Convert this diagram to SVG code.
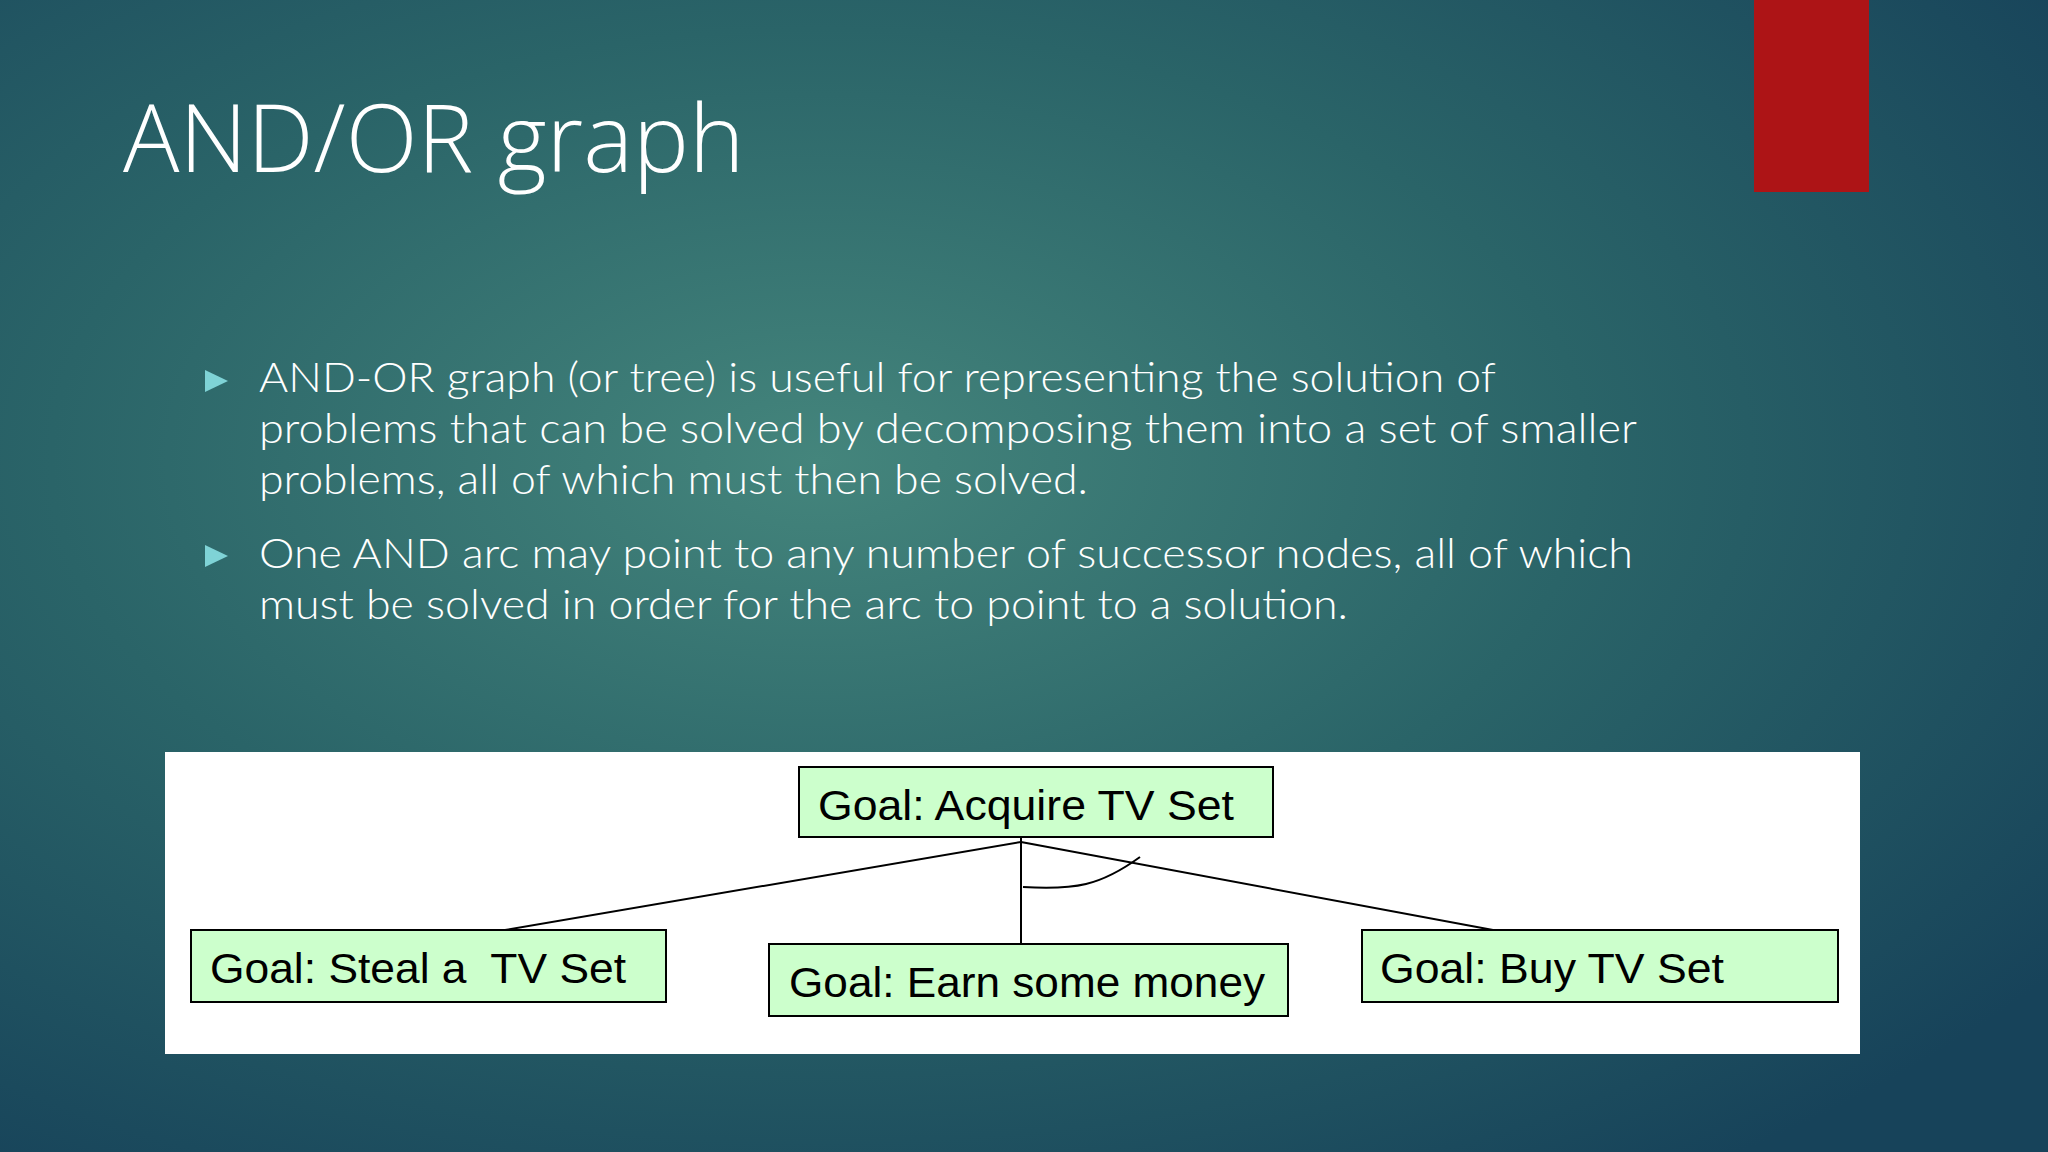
<svg xmlns="http://www.w3.org/2000/svg" width="2048" height="1152" viewBox="0 0 2048 1152">
<defs>
<radialGradient id="bg" cx="0.4" cy="0.4" r="0.75">
<stop offset="0" stop-color="#44857c"/>
<stop offset="0.5" stop-color="#2a6468"/>
<stop offset="1" stop-color="#17435a"/>
</radialGradient>
<style>
.t{font-family:"Open Sans","Noto Sans",sans-serif;fill:#ffffff;font-weight:300}
.b{font-family:Lato,"Open Sans",sans-serif;font-size:42px}
.n rect{fill:#ccffcc;stroke:#000;stroke-width:2}
.n text{font-family:"Liberation Sans",Arial,sans-serif;font-size:42px;fill:#000}
.c{stroke:#000;stroke-width:2;fill:none}
.bul{fill:#7fd3d6}
</style>
</defs>
<rect width="2048" height="1152" fill="url(#bg)"/>
<rect x="1754" y="0" width="115" height="192" fill="#ad1416"/>
<text class="t" x="123" y="172" font-size="94">AND/OR graph</text>
<polygon class="bul" points="205,370 228,381 205,392"/>
<polygon class="bul" points="205,545 228,556 205,567"/>
<text class="t b" x="259" y="392" textLength="1237" lengthAdjust="spacingAndGlyphs">AND-OR graph (or tree) is useful for representing the solution of</text>
<text class="t b" x="259" y="443" textLength="1378" lengthAdjust="spacingAndGlyphs">problems that can be solved by decomposing them into a set of smaller</text>
<text class="t b" x="259" y="494" textLength="829" lengthAdjust="spacingAndGlyphs">problems, all of which must then be solved.</text>
<text class="t b" x="259" y="568" textLength="1374" lengthAdjust="spacingAndGlyphs">One AND arc may point to any number of successor nodes, all of which</text>
<text class="t b" x="259" y="619" textLength="1089" lengthAdjust="spacingAndGlyphs">must be solved in order for the arc to point to a solution.</text>
<rect x="165" y="752" width="1695" height="302" fill="#ffffff"/>
<g id="connectors">
<line class="c" x1="1021" y1="832" x2="1021" y2="944"/>
<line class="c" x1="1021" y1="842" x2="505" y2="930"/>
<line class="c" x1="1021" y1="842" x2="1493" y2="930"/>
<path class="c" d="M1023,887 C1075,890 1100,886 1140,857"/>
</g>
<g id="n-acquire" class="n"><rect x="799" y="767" width="474" height="70"/><text x="818" y="820" textLength="416" lengthAdjust="spacingAndGlyphs">Goal: Acquire TV Set</text></g>
<g id="n-steal" class="n"><rect x="191" y="930" width="475" height="72"/><text x="210" y="983" textLength="416" lengthAdjust="spacingAndGlyphs" xml:space="preserve">Goal: Steal a  TV Set</text></g>
<g id="n-earn" class="n"><rect x="769" y="944" width="519" height="72"/><text x="789" y="997" textLength="476" lengthAdjust="spacingAndGlyphs">Goal: Earn some money</text></g>
<g id="n-buy" class="n"><rect x="1362" y="930" width="476" height="72"/><text x="1380" y="983" textLength="344" lengthAdjust="spacingAndGlyphs">Goal: Buy TV Set</text></g>
</svg>
